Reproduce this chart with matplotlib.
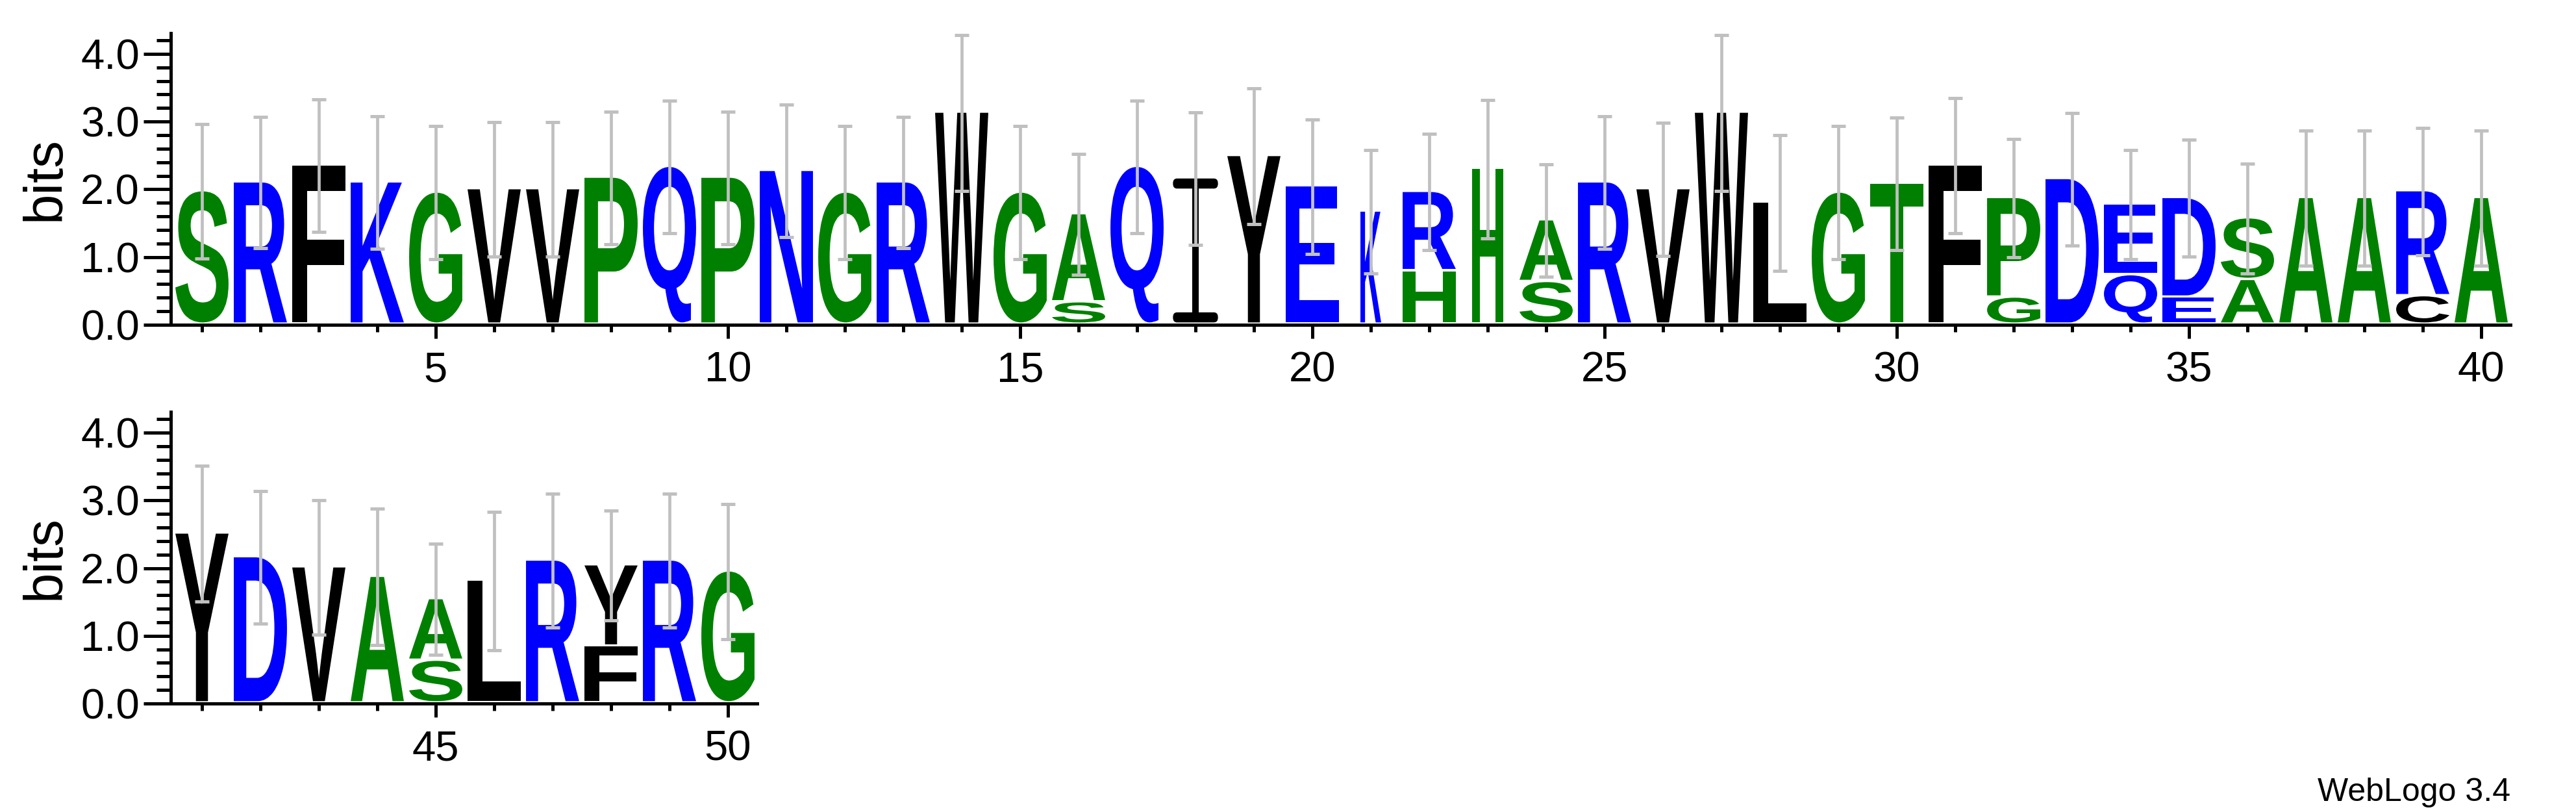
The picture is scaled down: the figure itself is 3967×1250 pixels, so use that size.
import matplotlib
matplotlib.use("Agg")
import matplotlib.pyplot as plt
from matplotlib.textpath import TextPath
from matplotlib.patches import PathPatch, FancyBboxPatch, Rectangle
from matplotlib.font_manager import FontProperties
from matplotlib.transforms import Affine2D
from matplotlib.ticker import FixedLocator, MultipleLocator, FormatStrFormatter

# ---------------- data ----------------
positions = list(range(1, 51))

# letters of each stack, bottom to top
stack_letters = [
    "S", "R", "F", "K", "G", "V", "V", "P", "Q", "P",
    "N", "G", "R", "W", "G", "SA", "Q", "I", "Y", "E",
    "K", "HR", "H", "SA", "R", "V", "W", "L", "G", "T",
    "F", "GP", "D", "QE", "ED", "AS", "A", "A", "CR", "A",
    "Y", "D", "V", "A", "SA", "L", "R", "FY", "R", "G",
]

# height (bits) of each letter, bottom to top
stack_heights = [
    [1.97], [2.10], [2.35], [2.10], [1.95], [2.00], [2.00], [2.17], [2.33], [2.17],
    [2.27], [1.95], [2.10], [3.13], [1.95], [0.33, 1.30], [2.33], [2.16], [2.49], [2.04],
    [1.67], [0.79, 1.17], [2.30], [0.63, 0.91], [2.10], [2.00], [3.13], [1.80], [1.95], [2.08],
    [2.35], [0.40, 1.47], [2.15], [0.73, 1.045], [0.40, 1.47], [0.66, 0.91], [1.87], [1.87], [0.42, 1.55], [1.87],
    [2.51], [2.16], [2.01], [1.87], [0.63, 0.91], [1.81], [2.11], [0.84, 1.20], [2.11], [1.95],
]

# relative stack width (fraction of sequences without gaps)
stack_widths = [
    1.0, 1.0, 1.0, 1.0, 1.0, 1.0, 1.0, 1.0, 1.0, 1.0,
    1.0, 1.0, 1.0, 1.0, 1.0, 1.0, 1.0, 1.0, 1.0, 1.0,
    0.39, 1.0, 0.59, 1.0, 1.0, 1.0, 1.0, 1.0, 1.0, 1.0,
    1.0, 1.0, 1.0, 1.0, 1.0, 1.0, 1.0, 1.0, 1.0, 1.0,
    1.0, 1.0, 1.0, 1.0, 1.0, 1.0, 1.0, 1.0, 1.0, 1.0,
]

# error bar half-heights (bits)
error_half = [
    0.99, 0.97, 0.98, 0.98, 0.98, 0.99, 0.99, 0.98, 0.98, 0.98,
    0.98, 0.98, 0.97, 1.15, 0.98, 0.89, 0.98, 0.98, 1.00, 0.99,
    0.91, 0.86, 1.02, 0.83, 0.98, 0.98, 1.15, 1.00, 0.98, 0.98,
    1.00, 0.87, 0.98, 0.805, 0.86, 0.81, 1.00, 1.00, 0.94, 1.00,
    1.00, 0.98, 0.99, 1.01, 0.82, 1.02, 0.99, 0.81, 0.99, 1.00,
]

row_ranges = [(1, 40), (41, 50)]
row_major_ticks = [[5, 10, 15, 20, 25, 30, 35, 40], [45, 50]]

colors = {
    "S": "#008000", "G": "#008000", "P": "#008000", "A": "#008000",
    "H": "#008000", "T": "#008000",
    "R": "#0000ff", "K": "#0000ff", "Q": "#0000ff", "N": "#0000ff",
    "E": "#0000ff", "D": "#0000ff",
    "F": "#000000", "V": "#000000", "W": "#000000", "I": "#000000",
    "Y": "#000000", "L": "#000000", "C": "#000000",
}

# ---------------- layout ----------------
W, H = 3967, 1250
fig = plt.figure(figsize=(W / 100, H / 100), dpi=100)
TEXT_FONT = ["Liberation Sans", "DejaVu Sans"]
glyph_font = FontProperties(family="Liberation Sans", weight="bold")

YMAX = 4.31
LETTER_FRAC = 0.91
PAD = 0.035


def add_axes_px(left, right, bottom, top):
    return fig.add_axes([left / W, 1 - bottom / H, (right - left) / W, (bottom - top) / H])


def draw_I(ax, x, y0, w, h, color):
    bar = 0.07 * h
    stem = 0.11 * w
    r = min(bar / 2, 0.07)
    for yb in (y0, y0 + h - bar):
        ax.add_patch(FancyBboxPatch((x - w / 2 + r, yb), w - 2 * r, bar,
                                    boxstyle=f"round,pad=0,rounding_size={r}",
                                    mutation_aspect=1, facecolor=color,
                                    edgecolor="none", zorder=3))
    ax.add_patch(Rectangle((x - stem / 2, y0 + bar / 2), stem, h - bar,
                           facecolor=color, edgecolor="none", zorder=3))


def draw_letter(ax, ch, x, y0, w, h, color):
    if ch == "I":
        draw_I(ax, x, y0, w, h, color)
        return
    tp = TextPath((0, 0), ch, size=1, prop=glyph_font)
    bb = tp.get_extents()
    tr = (Affine2D().translate(-bb.x0, -bb.y0)
          .scale(w / bb.width, h / bb.height)
          .translate(x - w / 2, y0))
    ax.add_patch(PathPatch(tr.transform_path(tp), facecolor=color,
                           edgecolor="none", lw=0, zorder=3))


axes_px = [(266, 3866, 500, 50.6), (266, 1166, 1083, 634)]

for (first, last), majors, (l, r, b, t) in zip(row_ranges, row_major_ticks, axes_px):
    ax = add_axes_px(l, r, b, t)
    ax.set_xlim(first - 0.5, last + 0.5)
    ax.set_ylim(0, YMAX)

    xs, tops, errs = [], [], []
    for i in range(first - 1, last):
        pos = positions[i]
        w = LETTER_FRAC * stack_widths[i]
        y = 0.0
        for ch, hgt in zip(stack_letters[i], stack_heights[i]):
            draw_letter(ax, ch, pos, y + PAD, w, hgt - PAD, colors[ch])
            y += hgt
        xs.append(pos)
        tops.append(y)
        errs.append(error_half[i])

    ax.errorbar(xs, tops, yerr=errs, fmt="none", ecolor="#c0c0c0",
                elinewidth=3.4, capsize=7.6, capthick=3.6, zorder=5)

    for s in ("top", "right"):
        ax.spines[s].set_visible(False)
    for s in ("left", "bottom"):
        ax.spines[s].set_linewidth(3.6)
        ax.spines[s].set_color("black")
    ax.spines["left"].set_position(("outward", 2.5))

    ax.xaxis.set_major_locator(FixedLocator(majors))
    ax.xaxis.set_minor_locator(FixedLocator(positions[first - 1:last]))
    ax.yaxis.set_major_locator(MultipleLocator(1.0))
    ax.yaxis.set_minor_locator(MultipleLocator(0.2))
    ax.yaxis.set_major_formatter(FormatStrFormatter("%.1f"))

    ax.tick_params(axis="y", which="major", length=30, width=3.6, pad=4.3,
                   labelsize=47, direction="out")
    ax.tick_params(axis="y", which="minor", length=15.5, width=3.6, direction="out")
    ax.tick_params(axis="x", which="major", length=15, width=3.6, pad=14,
                   labelsize=47, direction="out")
    ax.tick_params(axis="x", which="minor", length=8, width=3.6, direction="out")
    for lab in ax.get_xticklabels() + ax.get_yticklabels():
        lab.set_fontfamily(TEXT_FONT)

    ax.set_ylabel("bits", fontsize=60, fontfamily=TEXT_FONT, va="center")
    ax.yaxis.set_label_coords((70 - l) / (r - l), 0.5)

fig.text(3866 / W, 1 - 1233 / H, "WebLogo 3.4", ha="right", va="baseline",
         fontsize=36, fontfamily=TEXT_FONT)

fig.savefig("out.png", dpi=100, facecolor="white")
